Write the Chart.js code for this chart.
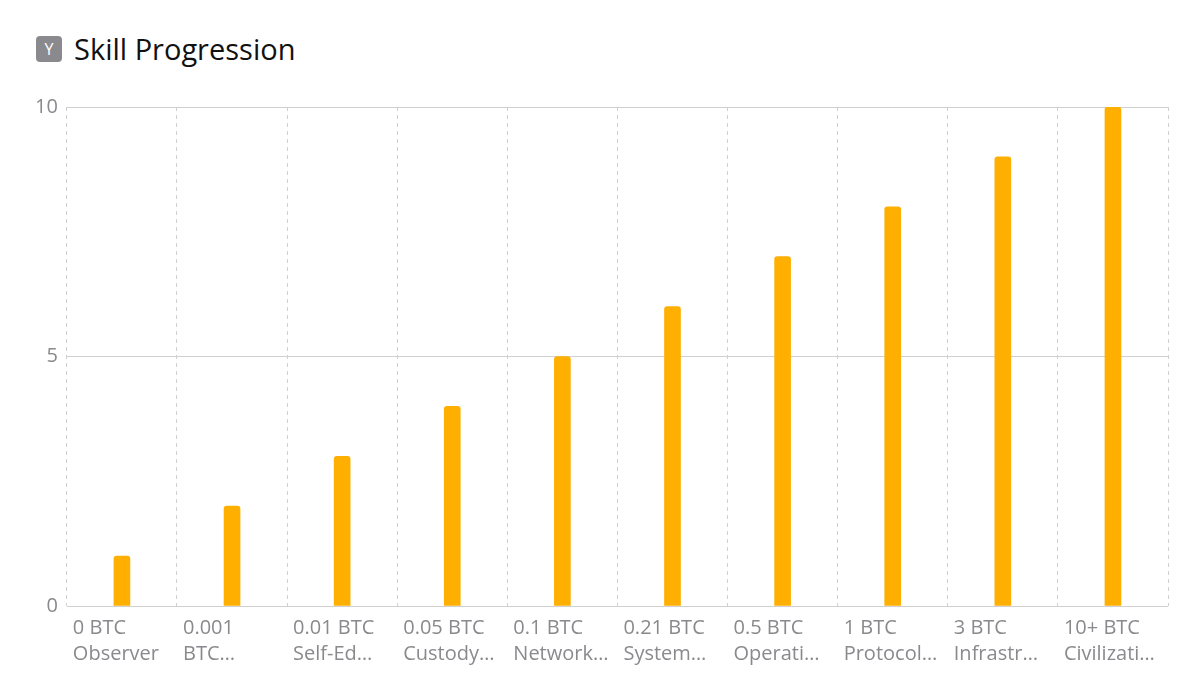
<!DOCTYPE html>
<html>
<head>
<meta charset="utf-8">
<script src="https://cdn.jsdelivr.net/npm/chart.js@4"></script>
<style>
  body { margin: 0; background: #fff; font-family: "Open Sans", "Noto Sans", sans-serif; }
  .title { position: absolute; left: 36px; top: 29px; display: flex; align-items: center; font-size: 29px; color: #111; }
  .badge { width: 26px; height: 26px; border-radius: 4px; background: #8a8a8e; color: #fff; font-size: 16px;
           display: flex; align-items: center; justify-content: center; margin-right: 12px; }
  .wrap { position: absolute; left: 34px; top: 94px; width: 1146px; height: 606px; }
</style>
</head>
<body>
<div class="title"><div class="badge">Y</div>Skill Progression</div>
<div class="wrap"><canvas id="chart"></canvas></div>
<script>
const categories = [
  ['0 BTC', 'Observer'], ['0.001', 'BTC…'], ['0.01 BTC', 'Self-Ed…'], ['0.05 BTC', 'Custody…'],
  ['0.1 BTC', 'Network…'], ['0.21 BTC', 'System…'], ['0.5 BTC', 'Operati…'], ['1 BTC', 'Protocol…'],
  ['3 BTC', 'Infrastr…'], ['10+ BTC', 'Civilizati…']
];
const skillLevels = [1, 2, 3, 4, 5, 6, 7, 8, 9, 10];
const yTicks = [0, 5, 10];

// draw the x labels left-aligned at the start of each category band
const leftLabels = {
  id: 'leftLabels',
  afterDraw(chart) {
    const x = chart.scales.x, ctx = chart.ctx;
    const band = (x.right - x.left) / categories.length;
    ctx.save();
    ctx.fillStyle = '#8a8a8e';
    ctx.font = '20px "Open Sans"';
    ctx.textAlign = 'left';
    ctx.textBaseline = 'top';
    categories.forEach((lines, i) => {
      const px = x.getPixelForValue(i) - band / 2 + 6;
      lines.forEach((t, j) => ctx.fillText(t, px, x.top + 12 + j * 26));
    });
    ctx.restore();
  }
};

new Chart(document.getElementById('chart'), {
  type: 'bar',
  data: {
    labels: categories,
    datasets: [{
      data: skillLevels,
      backgroundColor: '#ffaf00',
      barThickness: 16,
      borderRadius: { topLeft: 3, topRight: 3 },
      borderSkipped: false
    }]
  },
  plugins: [leftLabels],
  options: {
    responsive: true,
    maintainAspectRatio: false,
    animation: false,
    layout: { padding: { top: 4, right: 12, bottom: 94 } },
    plugins: { legend: { display: false }, tooltip: { enabled: false } },
    scales: {
      x: {
        grid: { offset: true, color: '#cfcfcf', tickLength: 0 },
        border: { display: false, dash: [4, 4] },
        ticks: { display: false }
      },
      y: {
        min: 0, max: 10,
        afterBuildTicks: s => { s.ticks = yTicks.map(v => ({ value: v })); },
        grid: { color: '#d0d0d0', tickLength: 8, tickColor: 'transparent' },
        border: { display: false },
        ticks: { color: '#8a8a8e', font: { size: 20, family: 'Open Sans' }, padding: 1 }
      }
    }
  }
});
</script>
</body>
</html>
